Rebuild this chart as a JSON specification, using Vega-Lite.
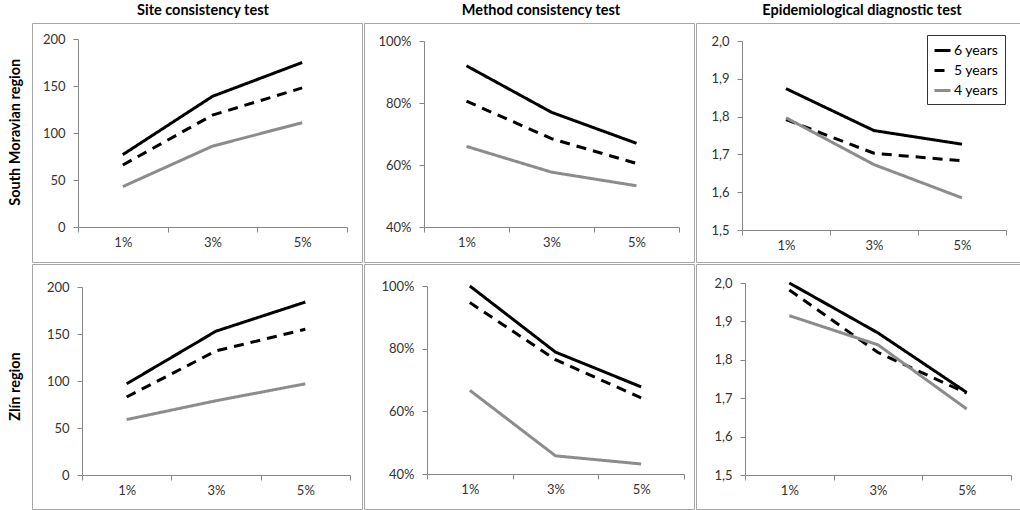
{
  "$schema": "https://vega.github.io/schema/vega-lite/v6.json",
  "padding": {"left": 7, "top": 2, "right": 0, "bottom": 0},
  "datasets": {
    "d": [
      {"region": "SM", "test": "site", "size": "1%", "years": "6 years", "value": 77},
      {"region": "SM", "test": "site", "size": "3%", "years": "6 years", "value": 139},
      {"region": "SM", "test": "site", "size": "5%", "years": "6 years", "value": 175},
      {"region": "SM", "test": "site", "size": "1%", "years": "5 years", "value": 66},
      {"region": "SM", "test": "site", "size": "3%", "years": "5 years", "value": 119},
      {"region": "SM", "test": "site", "size": "5%", "years": "5 years", "value": 148},
      {"region": "SM", "test": "site", "size": "1%", "years": "4 years", "value": 43},
      {"region": "SM", "test": "site", "size": "3%", "years": "4 years", "value": 86},
      {"region": "SM", "test": "site", "size": "5%", "years": "4 years", "value": 111},
      {"region": "SM", "test": "method", "size": "1%", "years": "6 years", "value": 0.92},
      {"region": "SM", "test": "method", "size": "3%", "years": "6 years", "value": 0.77},
      {"region": "SM", "test": "method", "size": "5%", "years": "6 years", "value": 0.67},
      {"region": "SM", "test": "method", "size": "1%", "years": "5 years", "value": 0.806},
      {"region": "SM", "test": "method", "size": "3%", "years": "5 years", "value": 0.685},
      {"region": "SM", "test": "method", "size": "5%", "years": "5 years", "value": 0.605},
      {"region": "SM", "test": "method", "size": "1%", "years": "4 years", "value": 0.66},
      {"region": "SM", "test": "method", "size": "3%", "years": "4 years", "value": 0.577},
      {"region": "SM", "test": "method", "size": "5%", "years": "4 years", "value": 0.533},
      {"region": "SM", "test": "epi", "size": "1%", "years": "6 years", "value": 1.874},
      {"region": "SM", "test": "epi", "size": "3%", "years": "6 years", "value": 1.763},
      {"region": "SM", "test": "epi", "size": "5%", "years": "6 years", "value": 1.727},
      {"region": "SM", "test": "epi", "size": "1%", "years": "5 years", "value": 1.792},
      {"region": "SM", "test": "epi", "size": "3%", "years": "5 years", "value": 1.703},
      {"region": "SM", "test": "epi", "size": "5%", "years": "5 years", "value": 1.683},
      {"region": "SM", "test": "epi", "size": "1%", "years": "4 years", "value": 1.797},
      {"region": "SM", "test": "epi", "size": "3%", "years": "4 years", "value": 1.673},
      {"region": "SM", "test": "epi", "size": "5%", "years": "4 years", "value": 1.585},
      {"region": "Z", "test": "site", "size": "1%", "years": "6 years", "value": 97},
      {"region": "Z", "test": "site", "size": "3%", "years": "6 years", "value": 153},
      {"region": "Z", "test": "site", "size": "5%", "years": "6 years", "value": 184},
      {"region": "Z", "test": "site", "size": "1%", "years": "5 years", "value": 83},
      {"region": "Z", "test": "site", "size": "3%", "years": "5 years", "value": 132},
      {"region": "Z", "test": "site", "size": "5%", "years": "5 years", "value": 155},
      {"region": "Z", "test": "site", "size": "1%", "years": "4 years", "value": 59},
      {"region": "Z", "test": "site", "size": "3%", "years": "4 years", "value": 79},
      {"region": "Z", "test": "site", "size": "5%", "years": "4 years", "value": 97},
      {"region": "Z", "test": "method", "size": "1%", "years": "6 years", "value": 1.0},
      {"region": "Z", "test": "method", "size": "3%", "years": "6 years", "value": 0.789},
      {"region": "Z", "test": "method", "size": "5%", "years": "6 years", "value": 0.678},
      {"region": "Z", "test": "method", "size": "1%", "years": "5 years", "value": 0.947},
      {"region": "Z", "test": "method", "size": "3%", "years": "5 years", "value": 0.765},
      {"region": "Z", "test": "method", "size": "5%", "years": "5 years", "value": 0.643},
      {"region": "Z", "test": "method", "size": "1%", "years": "4 years", "value": 0.667},
      {"region": "Z", "test": "method", "size": "3%", "years": "4 years", "value": 0.458},
      {"region": "Z", "test": "method", "size": "5%", "years": "4 years", "value": 0.432},
      {"region": "Z", "test": "epi", "size": "1%", "years": "6 years", "value": 2.0},
      {"region": "Z", "test": "epi", "size": "3%", "years": "6 years", "value": 1.87},
      {"region": "Z", "test": "epi", "size": "5%", "years": "6 years", "value": 1.715},
      {"region": "Z", "test": "epi", "size": "1%", "years": "5 years", "value": 1.982},
      {"region": "Z", "test": "epi", "size": "3%", "years": "5 years", "value": 1.819},
      {"region": "Z", "test": "epi", "size": "5%", "years": "5 years", "value": 1.713},
      {"region": "Z", "test": "epi", "size": "1%", "years": "4 years", "value": 1.915},
      {"region": "Z", "test": "epi", "size": "3%", "years": "4 years", "value": 1.839},
      {"region": "Z", "test": "epi", "size": "5%", "years": "4 years", "value": 1.672}
    ]
  },
  "spacing": 0,
  "resolve": {"scale": {"color": "independent", "strokeDash": "independent"}, "legend": {"color": "independent", "strokeDash": "independent"}},
  "vconcat": [
    {
      "spacing": 0,
      "title": {"text": "South Moravian region", "orient": "left", "anchor": "middle", "offset": 8},
      "resolve": {"scale": {"color": "independent", "strokeDash": "independent"}, "legend": {"color": "independent", "strokeDash": "independent"}},
      "hconcat": [
        {
          "width": 330, "height": 239,
          "title": {"text": "Site consistency test", "dx": 6},
          "data": {"name": "d"},
          "transform": [{"filter": "datum.region === 'SM' && datum.test === 'site'"}],
          "mark": {"type": "line", "strokeWidth": 3},
          "encoding": {
            "x": {"field": "size", "type": "ordinal", "bandPosition": 0.5, "scale": {"type": "band", "range": [46, 315], "paddingInner": 0, "paddingOuter": 0}, "axis": {"offset": -35, "title": null}},
            "y": {"field": "value", "type": "quantitative", "scale": {"domain": [0, 200], "range": [204, 16], "nice": false, "zero": false}, "axis": {"offset": -46, "values": [0, 50, 100, 150, 200], "title": null}},
            "color": {"field": "years", "type": "nominal", "scale": {"domain": ["6 years", "5 years", "4 years"], "range": ["#000000", "#000000", "#8c8c8c"]}, "legend": null},
            "strokeDash": {"field": "years", "type": "nominal", "scale": {"domain": ["6 years", "5 years", "4 years"], "range": [[1, 0], [10, 7], [1, 0]]}, "legend": null}
          }
        },
        {
          "width": 330, "height": 239,
          "title": {"text": "Method consistency test", "dx": 12},
          "data": {"name": "d"},
          "transform": [{"filter": "datum.region === 'SM' && datum.test === 'method'"}],
          "mark": {"type": "line", "strokeWidth": 3},
          "encoding": {
            "x": {"field": "size", "type": "ordinal", "bandPosition": 0.5, "scale": {"type": "band", "range": [60, 315], "paddingInner": 0, "paddingOuter": 0}, "axis": {"offset": -35, "title": null}},
            "y": {"field": "value", "type": "quantitative", "scale": {"domain": [0.4, 1.0], "range": [204, 18], "nice": false, "zero": false}, "axis": {"offset": -60, "values": [0.4, 0.6, 0.8, 1.0], "format": ".0%", "title": null}},
            "color": {"field": "years", "type": "nominal", "scale": {"domain": ["6 years", "5 years", "4 years"], "range": ["#000000", "#000000", "#8c8c8c"]}, "legend": null},
            "strokeDash": {"field": "years", "type": "nominal", "scale": {"domain": ["6 years", "5 years", "4 years"], "range": [[1, 0], [10, 7], [1, 0]]}, "legend": null}
          }
        },
        {
          "width": 328, "height": 239,
          "title": {"text": "Epidemiological diagnostic test", "dx": 2},
          "data": {"name": "d"},
          "transform": [{"filter": "datum.region === 'SM' && datum.test === 'epi'"}],
          "mark": {"type": "line", "strokeWidth": 3},
          "encoding": {
            "x": {"field": "size", "type": "ordinal", "bandPosition": 0.5, "scale": {"type": "band", "range": [46, 310], "paddingInner": 0, "paddingOuter": 0}, "axis": {"offset": -32, "title": null}},
            "y": {"field": "value", "type": "quantitative", "scale": {"domain": [1.5, 2.0], "range": [207, 18], "nice": false, "zero": false}, "axis": {"offset": -46, "values": [1.5, 1.6, 1.7, 1.8, 1.9, 2.0], "labelExpr": "replace(format(datum.value, '.1f'), '.', ',')", "title": null}},
            "color": {"field": "years", "type": "nominal", "scale": {"domain": ["6 years", "5 years", "4 years"], "range": ["#000000", "#000000", "#8c8c8c"]}, "legend": {"orient": "none", "legendX": 231, "legendY": 12, "title": null, "symbolType": "M-1,0L1,0", "symbolStrokeWidth": 3, "symbolSize": 256, "labelFont": "Lato", "labelFontSize": 14, "labelColor": "#000000", "labelOffset": 2, "strokeColor": "#333333", "fillColor": "#ffffff", "padding": 6, "rowPadding": 3}},
            "strokeDash": {"field": "years", "type": "nominal", "scale": {"domain": ["6 years", "5 years", "4 years"], "range": [[1, 0], [10, 7], [1, 0]]}, "legend": {"orient": "none", "legendX": 231, "legendY": 12, "title": null, "symbolType": "M-1,0L1,0", "symbolStrokeWidth": 3, "symbolSize": 256, "labelFont": "Lato", "labelFontSize": 14, "labelColor": "#000000", "labelOffset": 2, "strokeColor": "#333333", "fillColor": "#ffffff", "padding": 6, "rowPadding": 3}}
          }
        }
      ]
    },
    {
      "spacing": 0,
      "title": {"text": "Zlín region", "orient": "left", "anchor": "middle", "offset": 8},
      "resolve": {"scale": {"color": "independent", "strokeDash": "independent"}, "legend": {"color": "independent", "strokeDash": "independent"}},
      "hconcat": [
        {
          "width": 330, "height": 245,
          "data": {"name": "d"},
          "transform": [{"filter": "datum.region === 'Z' && datum.test === 'site'"}],
          "mark": {"type": "line", "strokeWidth": 3},
          "encoding": {
            "x": {"field": "size", "type": "ordinal", "bandPosition": 0.5, "scale": {"type": "band", "range": [50, 318], "paddingInner": 0, "paddingOuter": 0}, "axis": {"offset": -34, "title": null}},
            "y": {"field": "value", "type": "quantitative", "scale": {"domain": [0, 200], "range": [211, 23], "nice": false, "zero": false}, "axis": {"offset": -50, "values": [0, 50, 100, 150, 200], "title": null}},
            "color": {"field": "years", "type": "nominal", "scale": {"domain": ["6 years", "5 years", "4 years"], "range": ["#000000", "#000000", "#8c8c8c"]}, "legend": null},
            "strokeDash": {"field": "years", "type": "nominal", "scale": {"domain": ["6 years", "5 years", "4 years"], "range": [[1, 0], [10, 7], [1, 0]]}, "legend": null}
          }
        },
        {
          "width": 330, "height": 245,
          "data": {"name": "d"},
          "transform": [{"filter": "datum.region === 'Z' && datum.test === 'method'"}],
          "mark": {"type": "line", "strokeWidth": 3},
          "encoding": {
            "x": {"field": "size", "type": "ordinal", "bandPosition": 0.5, "scale": {"type": "band", "range": [63, 320], "paddingInner": 0, "paddingOuter": 0}, "axis": {"offset": -35, "title": null}},
            "y": {"field": "value", "type": "quantitative", "scale": {"domain": [0.4, 1.0], "range": [210, 22], "nice": false, "zero": false}, "axis": {"offset": -63, "values": [0.4, 0.6, 0.8, 1.0], "format": ".0%", "title": null}},
            "color": {"field": "years", "type": "nominal", "scale": {"domain": ["6 years", "5 years", "4 years"], "range": ["#000000", "#000000", "#8c8c8c"]}, "legend": null},
            "strokeDash": {"field": "years", "type": "nominal", "scale": {"domain": ["6 years", "5 years", "4 years"], "range": [[1, 0], [10, 7], [1, 0]]}, "legend": null}
          }
        },
        {
          "width": 328, "height": 245,
          "data": {"name": "d"},
          "transform": [{"filter": "datum.region === 'Z' && datum.test === 'epi'"}],
          "mark": {"type": "line", "strokeWidth": 3},
          "encoding": {
            "x": {"field": "size", "type": "ordinal", "bandPosition": 0.5, "scale": {"type": "band", "range": [49, 315], "paddingInner": 0, "paddingOuter": 0}, "axis": {"offset": -34, "title": null}},
            "y": {"field": "value", "type": "quantitative", "scale": {"domain": [1.5, 2.0], "range": [211, 19], "nice": false, "zero": false}, "axis": {"offset": -49, "values": [1.5, 1.6, 1.7, 1.8, 1.9, 2.0], "labelExpr": "replace(format(datum.value, '.1f'), '.', ',')", "title": null}},
            "color": {"field": "years", "type": "nominal", "scale": {"domain": ["6 years", "5 years", "4 years"], "range": ["#000000", "#000000", "#8c8c8c"]}, "legend": null},
            "strokeDash": {"field": "years", "type": "nominal", "scale": {"domain": ["6 years", "5 years", "4 years"], "range": [[1, 0], [10, 7], [1, 0]]}, "legend": null}
          }
        }
      ]
    }
  ],
  "config": {
    "view": {"stroke": "#a6a6a6", "strokeWidth": 1},
    "concat": {"spacing": 0},
    "axis": {"grid": false, "domainColor": "#868686", "tickColor": "#868686", "tickSize": 5, "labelFont": "Lato", "labelFontSize": 13, "labelColor": "#333333"},
    "axisX": {"labelAngle": 0, "tickBand": "extent", "labelPadding": 4},
    "axisY": {"labelPadding": 8},
    "title": {"font": "Lato", "fontSize": 14.5, "fontWeight": "bold", "color": "#000000", "offset": 5}
  }
}
